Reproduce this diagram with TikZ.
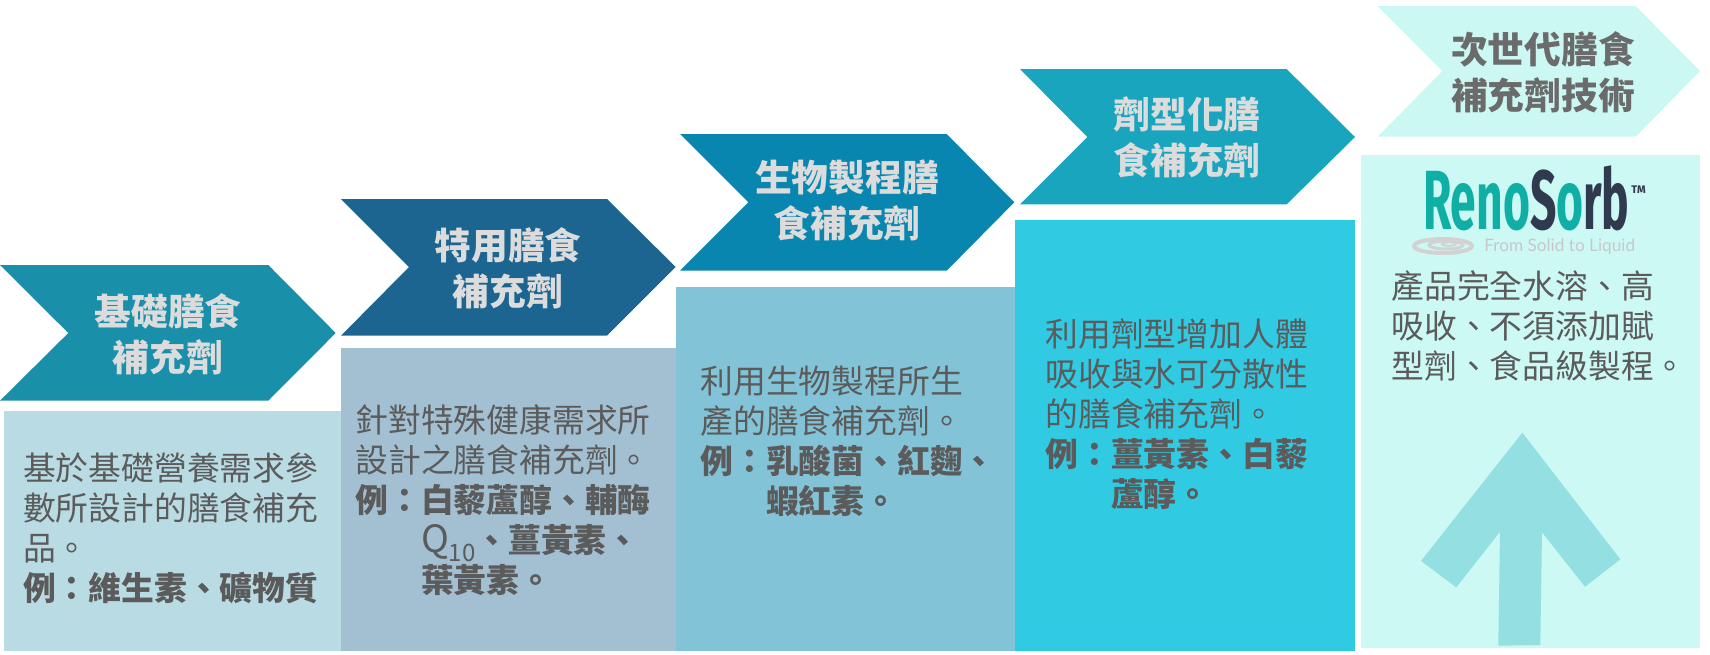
\documentclass[tikz,border=0pt]{standalone}
\usepackage{fontspec}
\newfontfamily\cjk{Noto Sans CJK TC}
\newfontfamily\logofont{Fira Sans}
\newfontfamily\tagfont{Lato}

\definecolor{chevA}{HTML}{1A8FA9}
\definecolor{chevB}{HTML}{1C6591}
\definecolor{chevC}{HTML}{0886AF}
\definecolor{chevD}{HTML}{1AA5BF}
\definecolor{chevE}{HTML}{CCF8F4}
\definecolor{boxA}{HTML}{B9DCE4}
\definecolor{boxB}{HTML}{A3C0D3}
\definecolor{boxC}{HTML}{83C3D7}
\definecolor{boxD}{HTML}{31CAE3}
\definecolor{boxE}{HTML}{CCF9F4}
\definecolor{upArrow}{HTML}{93DFE2}
\definecolor{headGray}{HTML}{DCDCDC}
\definecolor{headDark}{HTML}{6B6B6B}
\definecolor{bodyGray}{HTML}{5B5B5B}
\definecolor{renoTeal}{HTML}{10AFA5}
\definecolor{renoNavy}{HTML}{2F3A4E}
\definecolor{tagGray}{HTML}{C8C8C8}
\definecolor{rippleGray}{HTML}{D2D2D2}

\begin{document}
\begin{tikzpicture}[x=0.5pt,y=-0.5pt,
    head/.style={align=center, inner sep=0pt, text=headGray,
        font=\cjk\bfseries\fontsize{18.35pt}{23pt}\selectfont},
    body/.style={align=left, inner sep=0pt, anchor=north west, text=bodyGray,
        font=\cjk\fontsize{16.4pt}{20pt}\selectfont}]
\useasboundingbox (0,0) rectangle (1710,654);

% boxes
\fill[boxA] (4,411) rectangle (341,651);
\fill[boxB] (341,347.7) rectangle (675.7,651);
\fill[boxC] (676,287.3) rectangle (1015,651);
\fill[boxD] (1015,220) rectangle (1355,651);
\fill[boxE] (1361,155) rectangle (1700,648);

% chevrons
\fill[chevA] (0,265)--(268.3,265)--(335.7,333)--(268.3,400.7)--(0,400.7)--(68.3,333)--cycle;
\fill[chevB] (341,199)--(607,199)--(675.7,267)--(607,335.7)--(341,335.7)--(409,267)--cycle;
\fill[chevC] (680,134)--(946.7,134)--(1014.3,202.3)--(946.7,270.7)--(680,270.7)--(748.3,202.3)--cycle;
\fill[chevD] (1020,69)--(1286.7,69)--(1355,137)--(1286.7,204.3)--(1020,204.3)--(1087.3,137)--cycle;
\fill[chevE] (1377.7,6)--(1635.7,6)--(1700,71)--(1635.7,136.7)--(1377.7,136.7)--(1442.3,71)--cycle;

\node[head] (basic) at (168,334.3) {基礎膳食\\補充劑};
\node[head] (special) at (508,268.5) {特用膳食\\補充劑};
\node[head] (bioproc) at (847,200) {生物製程膳\\食補充劑};
\node[head] (dosage) at (1187,137) {劑型化膳\\食補充劑};
\node[head, text=headDark] (nextgen) at (1543,72.5) {次世代膳食\\補充劑技術};

\node[body] (basictxt) at (22.7,452.6) {基於基礎營養需求參\\數所設計的膳食補充\\品。\\
    \bfseries 例：維生素、礦物質};
\node[body] (specialtxt) at (355,404.6) {針對特殊健康需求所\\設計之膳食補充劑。\\
    \bfseries 例：白藜蘆醇、輔酶\\
    \bfseries\hspace*{2em}{\mdseries\fontsize{18.8pt}{20pt}\selectfont Q\raisebox{-0.22em}{\fontsize{12pt}{12pt}\selectfont 10}}、薑黃素、\\
    \bfseries\hspace*{2em}葉黃素。};
\node[body] (bioproctxt) at (700,365.6) {利用生物製程所生\\產的膳食補充劑。\\
    \bfseries 例：乳酸菌、紅麴、\\
    \bfseries\hspace*{2em}蝦紅素。};
\node[body] (dosagetxt) at (1045,318.1) {利用劑型增加人體\\吸收與水可分散性\\的膳食補充劑。\\
    \bfseries 例：薑黃素、白藜\\
    \bfseries\hspace*{2em}蘆醇。};
\node[body] (nextgentxt) at (1391,270.6) {產品完全水溶、高\\吸收、不須添加賦\\型劑、食品級製程。};

% logo
\node[inner sep=0pt, anchor=base west] (logo) at (1422.7,229)
    {\scalebox{0.55}[1]{\logofont\bfseries\fontsize{42pt}{42pt}\selectfont
    \textcolor{renoTeal}{Reno}\textcolor{renoNavy}{S}\textcolor{renoTeal}{o}\textcolor{renoNavy}{rb}}};
\node[inner sep=0pt, anchor=north west, text=renoNavy,
    font=\logofont\bfseries\fontsize{5.5pt}{6pt}\selectfont] (tm) at (1631,185) {TM};
\node[inner sep=0pt, anchor=base west, text=tagGray,
    font=\tagfont\fontsize{8.6pt}{10pt}\selectfont] (tagline) at (1484,251) {From Solid to Liquid};
\draw[rippleGray, line width=2] (1443,246) ellipse [x radius=29, y radius=7];
\draw[rippleGray, line width=1.5] (1446,245) ellipse [x radius=17, y radius=4];
\draw[rippleGray, line width=1] (1449,244) ellipse [x radius=7, y radius=1.8];

% arrow
\fill[upArrow] (1522.3,432.7)--(1620.3,559.3)--(1585,586.7)--(1542,532.3)--(1540.3,645)
    --(1498.3,645.7)--(1500,531.7)--(1456.3,587.3)--(1421,561)--cycle;
\end{tikzpicture}
\end{document}
